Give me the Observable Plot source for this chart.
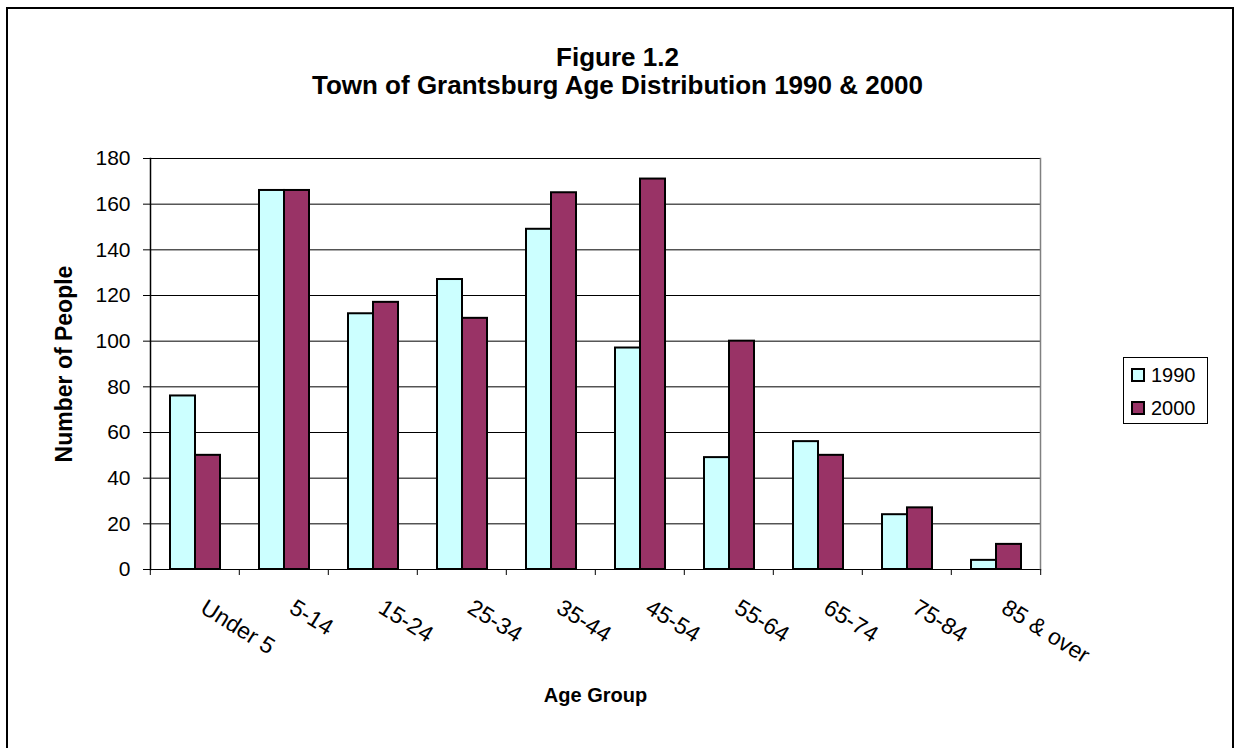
<!DOCTYPE html>
<html>
<head>
<meta charset="utf-8">
<script src="https://cdn.jsdelivr.net/npm/d3@7"></script>
<script src="https://cdn.jsdelivr.net/npm/@observablehq/plot@0.6"></script>
<style>
  html, body { margin: 0; padding: 0; background: #fff; overflow: hidden; }
  body { width: 1235px; height: 748px; position: relative; font-family: "Liberation Sans", Arial, sans-serif; color: #000; }
  #border { position: absolute; left: 6px; top: 7px; width: 1228px; height: 800px; border: 2px solid #000; box-sizing: border-box; pointer-events: none; }
  #title { position: relative; height: 100px; box-sizing: border-box; padding-top: 43px; text-align: center; font-weight: bold; font-size: 26px; line-height: 28px; }
  #legend { position: absolute; left: 1123px; top: 357px; width: 85px; height: 67px; border: 1px solid #000; box-sizing: border-box; background: #fff; font-size: 20px; }
  .row { position: absolute; left: 7px; display: flex; align-items: center; height: 22px; }
  .sw { width: 14px; height: 14px; border: 2px solid #000; box-sizing: border-box; margin-right: 6px; }
  g[aria-label="y-axis label"] text { font-weight: bold; font-size: 23px; }
  g[aria-label="fx-axis label"] text { font-weight: bold; font-size: 20px; }
  g[aria-label="fx-axis tick label"] text { font-size: 23px; }
</style>
</head>
<body>
<div id="border"></div>
<div id="title">Figure 1.2<br>Town of Grantsburg Age Distribution 1990 &amp; 2000</div>
<div id="chart"></div>
<div id="legend"></div>
<script>
const categories = ["Under 5", "5-14", "15-24", "25-34", "35-44", "45-54", "55-64", "65-74", "75-84", "85 & over"];
const years = ["1990", "2000"];
const values1990 = [76, 166, 112, 127, 149, 97, 49, 56, 24, 4];
const values2000 = [50, 166, 117, 110, 165, 171, 100, 50, 27, 11];
const yTicks = [0, 20, 40, 60, 80, 100, 120, 140, 160, 180];
const seriesColors = ["#CCFFFF", "#993366"];

const data = categories.flatMap((c, i) => [
  {age: c, year: years[0], value: values1990[i]},
  {age: c, year: years[1], value: values2000[i]}
]);

const W = 1235, H = 648, ML = 148, MR = 193, MT = 58, MB = 179;
const halfStep = (W - ML - MR) / categories.length / 2;

const chart = Plot.plot({
  width: W, height: H,
  marginLeft: ML, marginRight: MR, marginTop: MT, marginBottom: MB,
  style: {fontFamily: '"Liberation Sans", Arial, sans-serif', fontSize: "21px", color: "#000", background: "transparent", overflow: "visible"},
  fx: {domain: categories, padding: 0},
  x: {domain: years, paddingInner: 0, paddingOuter: 0.753, axis: null},
  y: {domain: [0, 180]},
  color: {domain: years, range: seriesColors},
  marks: [
    Plot.ruleY(yTicks, {stroke: "#000", strokeWidth: 1}),
    Plot.frame({anchor: "right", facetAnchor: "right", stroke: "#808080", strokeWidth: 1.5}),
    Plot.frame({anchor: "left", facetAnchor: "left", stroke: "#000", strokeWidth: 1.5}),
    Plot.barY(data, {fx: "age", x: "year", y: "value", fill: "year", stroke: "#000", strokeWidth: 2}),
    Plot.axisY({ticks: yTicks, tickSize: 7, tickPadding: 13, label: "Number of People", labelAnchor: "center", labelOffset: 95, labelArrow: "none"}),
    Plot.axisFx({anchor: "bottom", tickSize: 0, tickRotate: 32, tickPadding: 36, dx: 8, label: null, fontSize: 23}),
    Plot.axisFx({anchor: "bottom", tickSize: 0, tickFormat: () => "", label: "Age Group", labelAnchor: "center", labelOffset: 132, labelArrow: "none"}),
    Plot.axisFx({anchor: "bottom", tickSize: 6, tickFormat: () => "", label: null, dx: -halfStep}),
    Plot.axisFx({anchor: "bottom", ticks: [categories[categories.length - 1]], tickSize: 6, tickFormat: () => "", label: null, dx: halfStep})
  ]
});
document.getElementById("chart").appendChild(chart);

const legend = document.getElementById("legend");
years.forEach((y, i) => {
  const row = document.createElement("div");
  row.className = "row";
  row.style.top = (6 + i * 33) + "px";
  const sw = document.createElement("div");
  sw.className = "sw";
  sw.style.background = seriesColors[i];
  const t = document.createElement("span");
  t.textContent = y;
  row.appendChild(sw);
  row.appendChild(t);
  legend.appendChild(row);
});
</script>
</body>
</html>
